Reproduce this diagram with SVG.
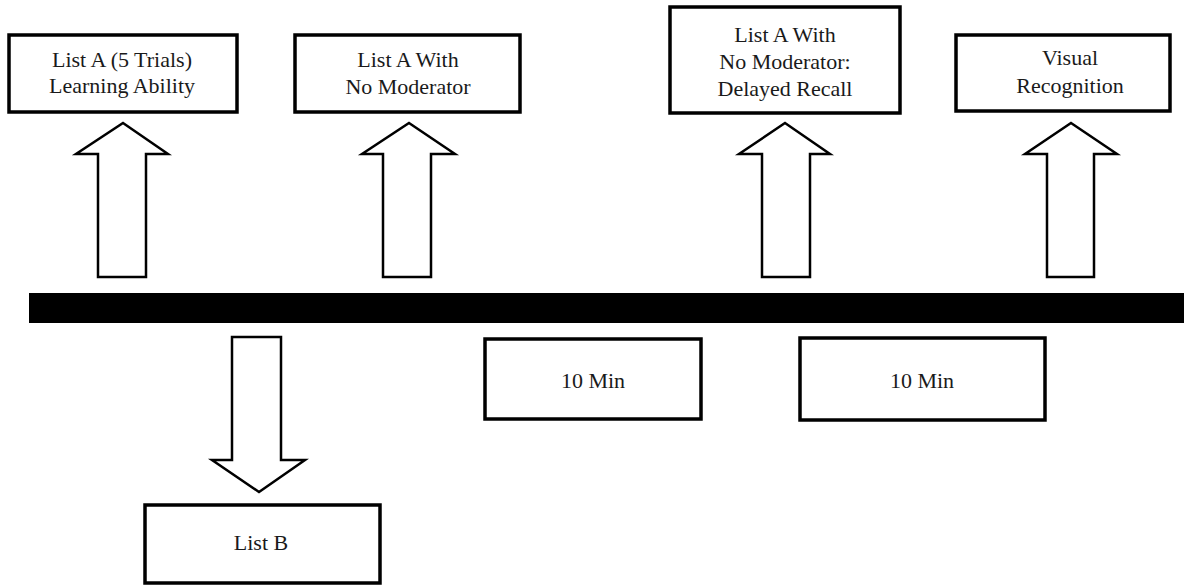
<svg xmlns="http://www.w3.org/2000/svg" width="1187" height="586" viewBox="0 0 1187 586">
<style>
.box{fill:#fff;stroke:#000;stroke-width:3.5}
.arr{fill:#fff;stroke:#000;stroke-width:2.5;stroke-linejoin:miter}
.t{font-family:"Liberation Serif","Times New Roman",serif;font-size:22px;fill:#1a1a1a;text-anchor:middle}
</style>
<rect width="1187" height="586" fill="#fff"/>
<g id="timeline"><rect x="29" y="293" width="1155" height="30" fill="#000"/></g>
<g id="node-listA5"><rect class="box" x="9" y="35" width="228" height="77"/><text class="t" x="122" y="67">List A (5 Trials)</text><text class="t" x="122" y="93">Learning Ability</text></g>
<g id="node-listA-nomod"><rect class="box" x="295" y="35" width="225" height="77"/><text class="t" x="408" y="67">List A With</text><text class="t" x="408" y="94">No Moderator</text></g>
<g id="node-delayed"><rect class="box" x="670" y="7" width="230" height="106"/><text class="t" x="785" y="42">List A With</text><text class="t" x="785" y="69">No Moderator:</text><text class="t" x="785" y="96">Delayed Recall</text></g>
<g id="node-visual"><rect class="box" x="956" y="35" width="214" height="76"/><text class="t" x="1070" y="65">Visual</text><text class="t" x="1070" y="93">Recognition</text></g>
<g id="node-10min-1"><rect class="box" x="485" y="339" width="216" height="80"/><text class="t" x="593" y="388">10 Min</text></g>
<g id="node-10min-2"><rect class="box" x="800" y="338" width="245" height="82"/><text class="t" x="922" y="388">10 Min</text></g>
<g id="node-listB"><rect class="box" x="145" y="505" width="235" height="78"/><text class="t" x="261" y="550">List B</text></g>
<g id="connectors">
<polygon class="arr" points="123,123 168,154 146,154 146,277 98,277 98,154 76,154"/>
<polygon class="arr" points="409,123 455,154 431,154 431,277 383,277 383,154 362,154"/>
<polygon class="arr" points="785,123 830,154 810,154 810,277 762,277 762,154 739,154"/>
<polygon class="arr" points="1071,123 1117,154 1094,154 1094,277 1047,277 1047,154 1025,154"/>
<polygon class="arr" points="232,337 281,337 281,460 305,460 259,492 212,460 232,460"/>
</g>
</svg>
